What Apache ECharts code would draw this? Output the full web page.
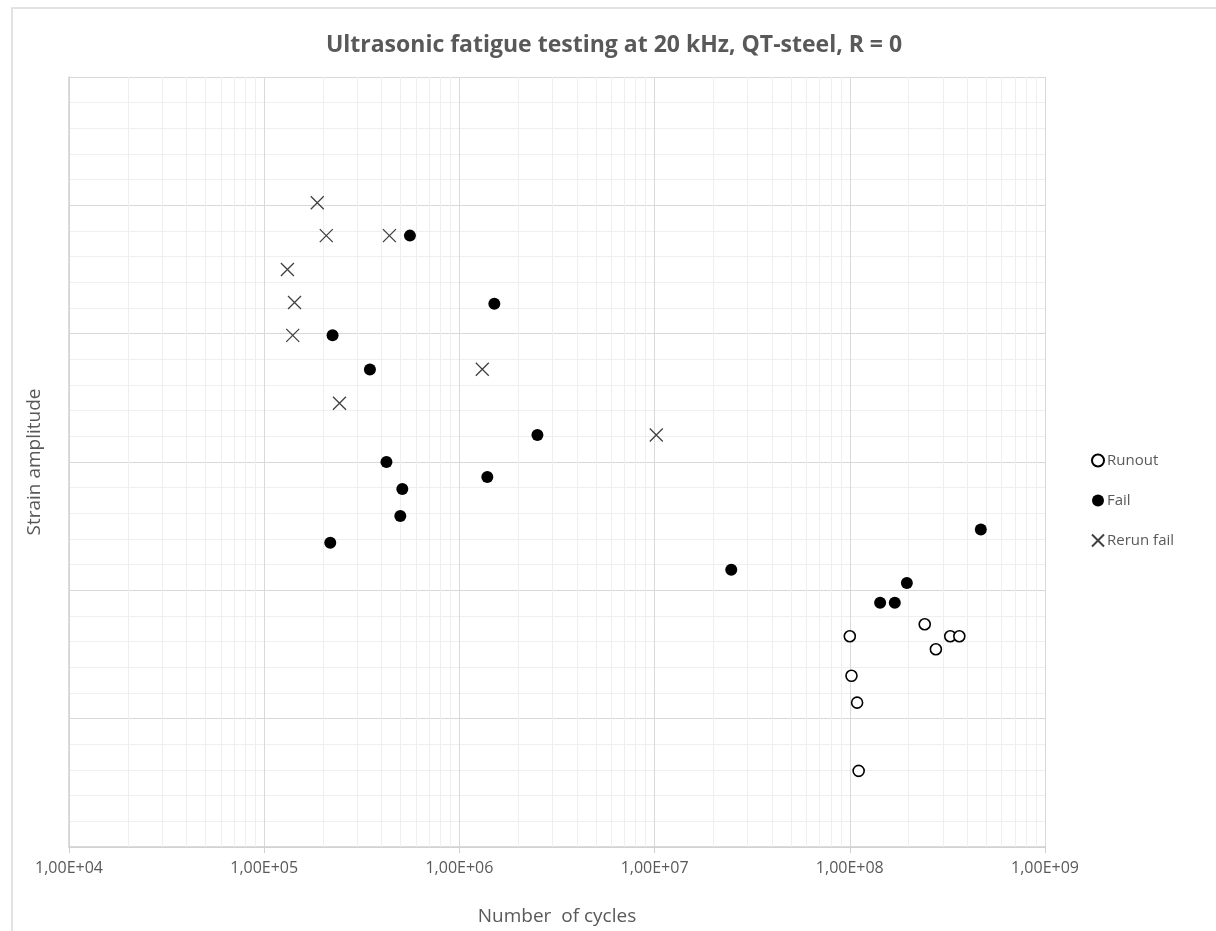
<!DOCTYPE html>
<html>
<head>
<meta charset="utf-8">
<script src="https://cdn.jsdelivr.net/npm/echarts@6/dist/echarts.min.js"></script>
<style>
html,body{margin:0;padding:0;background:#fff;}
#c{width:1216px;height:931px;}
</style>
</head>
<body>
<div id="c"></div>
<script>
// Strain amplitude in relative units (axis unlabeled; one unit = one major gridline interval)
const runoutCycles = [1.0e8, 2.42e8, 3.27e8, 3.64e8, 2.76e8, 1.02e8, 1.09e8, 1.11e8];
const runoutStrain = [1.642, 1.736, 1.642, 1.642, 1.541, 1.334, 1.125, 0.593];

const failCycles = [5.58e5, 1.51e6, 2.24e5, 3.48e5, 2.51e6, 4.23e5, 1.39e6, 5.1e5, 4.98e5, 2.18e5, 2.47e7, 4.69e8, 1.96e8, 1.43e8, 1.70e8];
const failStrain = [4.764, 4.233, 3.987, 3.72, 3.21, 3.0, 2.883, 2.79, 2.58, 2.37, 2.161, 2.474, 2.057, 1.904, 1.904];

const rerunCycles = [1.87e5, 2.08e5, 4.38e5, 1.315e5, 1.43e5, 1.40e5, 1.31e6, 2.43e5, 1.02e7];
const rerunStrain = [5.02, 4.764, 4.764, 4.50, 4.243, 3.987, 3.723, 3.458, 3.21];

const xMin = 1e4, xMax = 1e9;
const yMin = 0, yMax = 6;

// minor vertical gridlines at 2..9 x 10^n
const minorX = [];
for (let e = 4; e < 9; e++) {
  for (let k = 2; k <= 9; k++) minorX.push(k * Math.pow(10, e));
}

const zip = (a, b) => a.map((v, i) => [v, b[i]]);

function fmtSci(v) {
  const e = Math.round(Math.log10(v));
  const m = v / Math.pow(10, e);
  return m.toFixed(2).replace('.', ',') + 'E+' + String(e).padStart(2, '0');
}

const font = "'Open Sans', 'Noto Sans', sans-serif";
const chart = echarts.init(document.getElementById('c'), null, {renderer: 'canvas'});
chart.setOption({
  animation: false,
  backgroundColor: '#fff',
  textStyle: {fontFamily: font},
  graphic: [{
    type: 'rect', left: 9.5, top: 5.5, silent: true, z: -10,
    shape: {width: 1300, height: 1000},
    style: {fill: 'none', stroke: '#d9d9d9', lineWidth: 1.5}
  }],
  title: {
    text: 'Ultrasonic fatigue testing at 20 kHz, QT-steel, R = 0',
    left: 609, top: 29, textAlign: 'center',
    textStyle: {fontFamily: font, fontSize: 23, fontWeight: 'bold', color: '#595959'}
  },
  legend: {
    orient: 'vertical', left: 1086, top: 448,
    itemWidth: 12, itemHeight: 12, itemGap: 25,
    textStyle: {fontFamily: font, fontSize: 15, color: '#595959', padding: [0, 0, 0, -2]},
    data: ['Runout', 'Fail', 'Rerun fail']
  },
  grid: {left: 69, right: 171, top: 77, bottom: 82, containLabel: false},
  xAxis: {
    type: 'log', logBase: 10, min: xMin, max: xMax,
    name: 'Number  of cycles', nameLocation: 'middle', nameGap: 60,
    nameTextStyle: {fontFamily: font, fontSize: 19, color: '#595959'},
    axisLine: {lineStyle: {color: '#d0d0d0', width: 1.5}},
    axisTick: {show: true, length: 6, lineStyle: {color: '#d0d0d0'}},
    axisLabel: {formatter: fmtSci, fontFamily: font, fontSize: 16, color: '#595959', margin: 13},
    splitLine: {show: true, lineStyle: {color: '#d9d9d9', width: 1}},
    minorTick: {show: false},
    minorSplitLine: {show: false}
  },
  yAxis: {
    type: 'value', min: yMin, max: yMax, interval: 1,
    name: 'Strain amplitude', nameLocation: 'middle', nameGap: 25, nameRotate: 90,
    nameTextStyle: {fontFamily: font, fontSize: 19, color: '#595959'},
    axisLine: {show: true, lineStyle: {color: '#d0d0d0', width: 1.5}},
    axisTick: {show: false},
    axisLabel: {show: false},
    splitLine: {show: true, lineStyle: {color: '#d9d9d9', width: 1}},
    minorTick: {show: false, splitNumber: 5},
    minorSplitLine: {show: true, lineStyle: {color: '#efefef', width: 1}}
  },
  series: [
    {
      type: 'scatter', name: '_grid', data: [], z: 1, silent: true,
      markLine: {
        silent: true, symbol: 'none', label: {show: false}, animation: false,
        lineStyle: {color: '#efefef', width: 1, type: 'solid'},
        emphasis: {disabled: true},
        data: minorX.map(v => ({xAxis: v}))
      }
    },
    {
      type: 'scatter', name: 'Runout', z: 5,
      symbol: 'circle', symbolSize: 11,
      itemStyle: {color: '#ffffff', borderColor: '#000000', borderWidth: 1.6, opacity: 1},
      data: zip(runoutCycles, runoutStrain)
    },
    {
      type: 'scatter', name: 'Fail', z: 5,
      symbol: 'circle', symbolSize: 12,
      itemStyle: {color: '#000000', borderWidth: 0, opacity: 1},
      data: zip(failCycles, failStrain)
    },
    {
      type: 'scatter', name: 'Rerun fail', z: 5,
      symbol: 'path://M0,0L10,10M10,0L0,10', symbolSize: 13,
      itemStyle: {color: 'rgba(0,0,0,0)', borderColor: '#404040', borderWidth: 1.3, opacity: 1},
      data: zip(rerunCycles, rerunStrain)
    }
  ]
});
</script>
</body>
</html>
